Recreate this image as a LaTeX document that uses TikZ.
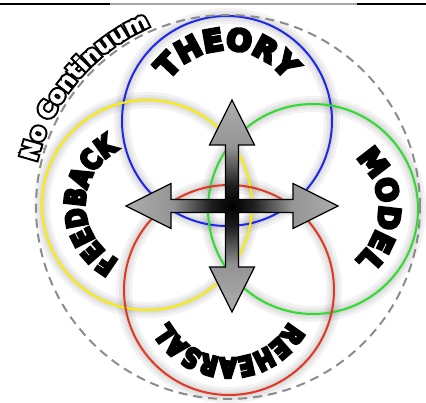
\documentclass[tikz,border=0pt]{standalone}
\usepackage{fontspec}
\usepackage{tikz}
\usetikzlibrary{
  decorations.text
}
\newfontfamily\heavyfont{DejaVu Sans Bold}[FakeBold=10]
\newfontfamily\narrowfont{DejaVu Sans Bold}[FakeBold=10,FakeStretch=0.82]
\newfontfamily\rimfont{DejaVu Sans Bold}[FakeBold=20]
\newfontfamily\rimfontin{DejaVu Sans Bold}[FakeBold=2]
\newcommand\theoryfont{\heavyfont\fontsize{30}{30}\selectfont}
\newcommand\modelfont{\heavyfont\fontsize{29}{29}\selectfont}
\newcommand\rehearsalfont{\narrowfont\fontsize{27}{27}\selectfont}
\newcommand\feedbackfont{\narrowfont\fontsize{28}{28}\selectfont}
\newcommand\rimoutfont{\rimfont\fontsize{23}{23}\selectfont}
\newcommand\riminfont{\rimfontin\fontsize{23}{23}\selectfont}

\definecolor{theoryblue}{RGB}{30,40,235}
\definecolor{feedbackyellow}{RGB}{252,238,0}
\definecolor{modelgreen}{RGB}{45,220,45}
\definecolor{rehearsalred}{RGB}{225,55,35}

\pgfdeclareradialshading{crossshade}{\pgfpoint{0bp}{0bp}}{%
  color(0bp)=(black); color(5bp)=(black!88); color(14bp)=(black!42);
  color(25bp)=(black!32); color(50bp)=(black!32)}

\begin{document}
\begin{tikzpicture}[x=1pt,y=1pt]
  \tikzset{
    ringline/.style={line width=2pt},
    ringglow/.style={line width=#1, black, opacity=0.05},
    arctext/.style={decorate, decoration={text along path, text align=center, text={#1}}},
  }
\useasboundingbox (0,0) rectangle (426,402);

% rule along the top
\draw[line width=2.5pt] (0,398) -- (110,398);
\draw[line width=2.5pt, black!35] (110,398) -- (357,398);
\draw[line width=2.5pt] (357,398) -- (426,398);

\coordinate (o) at (228,195);
\coordinate (theory) at (227,281);
\coordinate (feedback) at (147,197);
\coordinate (model) at (313,193);
\coordinate (rehearsal) at (229,112);
\coordinate (hub) at (232,196);

% soft glow under the rings
\foreach \w in {16pt,10pt,5pt}
  \foreach \c in {theory,feedback,model,rehearsal}
    \draw[ringglow=\w] (\c) circle (105pt);

\draw[ringline, draw=theoryblue] (theory) circle (105pt);
\draw[ringline, draw=feedbackyellow] (feedback) circle (105pt);
\draw[ringline, draw=modelgreen] (model) circle (105pt);
\draw[ringline, draw=rehearsalred] (rehearsal) circle (105pt);

\draw[black!45, line width=2pt, dash pattern=on 9pt off 6pt] (o) circle (192pt);

\path[arctext={|\theoryfont|THEORY}]
  ([shift={(160:71pt)}]theory) arc[start angle=160, end angle=20, radius=71pt];
\path[arctext={|\modelfont|MODEL}]
  ([shift={(70:66pt)}]model) arc[start angle=70, end angle=-70, radius=66pt];
\path[arctext={|\rehearsalfont|REHEARSAL}]
  ([shift={(-10:68pt)}]rehearsal) arc[start angle=-10, end angle=-170, radius=68pt];
\path[arctext={|\feedbackfont|FEEDBACK}]
  ([shift={(260:62pt)}]feedback) arc[start angle=260, end angle=100, radius=62pt];

% outlined caption outside the dashed ring
\path[arctext={|\rimoutfont|No Continuum}]
  ([shift={(180:197pt)}]o) arc[start angle=180, end angle=100, radius=197pt];
\path[arctext={|\riminfont\color{white}|No Continuum}]
  ([shift={(180:197pt)}]o) arc[start angle=180, end angle=100, radius=197pt];

% four-way arrow
\begin{scope}[shift={(hub)}]
\shadedraw[shading=crossshade, line width=1.2pt, line join=miter]
  (0,106) -- (22.5,61) -- (6.5,61) -- (6.5,6.5) -- (61,6.5) -- (61,22.5)
  -- (106,0) -- (61,-22.5) -- (61,-6.5) -- (6.5,-6.5) -- (6.5,-61) -- (22.5,-61)
  -- (0,-106) -- (-22.5,-61) -- (-6.5,-61) -- (-6.5,-6.5) -- (-61,-6.5) -- (-61,-22.5)
  -- (-106,0) -- (-61,22.5) -- (-61,6.5) -- (-6.5,6.5) -- (-6.5,61) -- (-22.5,61) -- cycle;
\end{scope}

\end{tikzpicture}
\end{document}
